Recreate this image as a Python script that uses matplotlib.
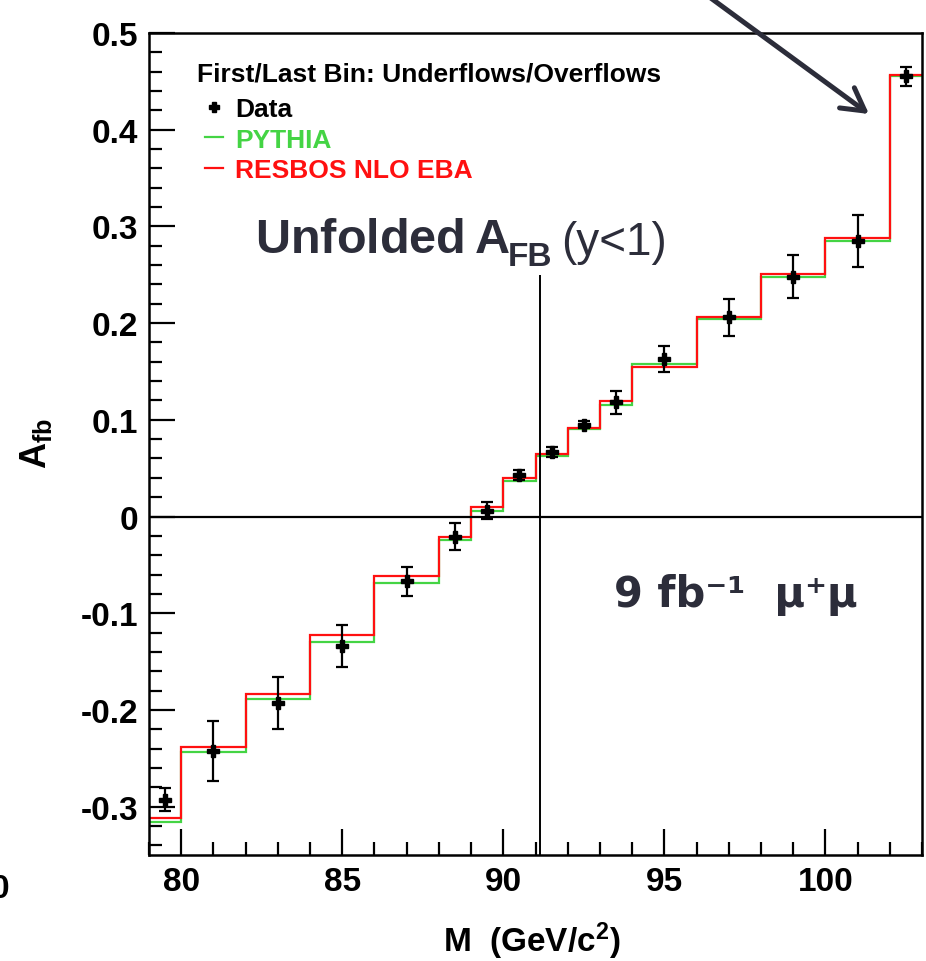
import matplotlib
matplotlib.use("Agg")
import matplotlib.pyplot as plt
from matplotlib.ticker import MultipleLocator, FuncFormatter
from matplotlib.lines import Line2D

plt.rcParams['font.family'] = ['Liberation Sans', 'DejaVu Sans']
plt.rcParams['font.weight'] = 'bold'
plt.rcParams['mathtext.fontset'] = 'custom'
plt.rcParams['mathtext.rm'] = 'Liberation Sans'
plt.rcParams['mathtext.bf'] = 'Liberation Sans:bold'
plt.rcParams['mathtext.default'] = 'bf'

# mass bins (GeV/c^2), first/last bins hold under/overflows
edges = [79, 80, 82, 84, 86, 88, 89, 90, 91, 92, 93, 94, 96, 98, 100, 102, 103]
resbos = [-0.312, -0.238, -0.184, -0.123, -0.062, -0.021, 0.010, 0.040, 0.065,
          0.091, 0.119, 0.155, 0.206, 0.251, 0.288, 0.457]
pythia = [-0.316, -0.243, -0.189, -0.130, -0.069, -0.024, 0.006, 0.037, 0.063,
          0.090, 0.115, 0.158, 0.204, 0.248, 0.285, 0.456]

data_m = [79.5, 81, 83, 85, 87, 88.5, 89.5, 90.5, 91.5, 92.5, 93.5, 95, 97, 99, 101, 102.5]
data_afb = [-0.293, -0.242, -0.193, -0.134, -0.067, -0.021, 0.006, 0.043, 0.067,
            0.095, 0.118, 0.163, 0.206, 0.248, 0.285, 0.455]
data_err = [0.012, 0.031, 0.027, 0.022, 0.015, 0.014, 0.009, 0.005, 0.005,
            0.004, 0.012, 0.0135, 0.019, 0.022, 0.027, 0.010]

m_z = 91.15
text_col = '#2c2d3a'
green = '#44d444'
red = '#ff1010'

fig = plt.figure(figsize=(9.26, 9.62), dpi=100)
ax = fig.add_axes([0.1609, 0.1102, 0.8348, 0.8545])

ax.stairs(pythia, edges, color=green, lw=1.6, baseline=None)
ax.stairs(resbos, edges, color=red, lw=1.6, baseline=None)
ax.errorbar(data_m, data_afb, yerr=data_err, fmt='P', color='black', ms=8,
            elinewidth=1.6, capsize=4, capthick=1.6, zorder=5)

ax.axhline(0, color='black', lw=1.6, zorder=1)
ax.vlines(m_z, -0.35, 0.25, color='black', lw=1.4, zorder=1)

ax.set_xlim(79, 103)
ax.set_ylim(-0.35, 0.5)
ax.xaxis.set_major_locator(MultipleLocator(5))
ax.xaxis.set_minor_locator(MultipleLocator(1))
ax.yaxis.set_major_locator(MultipleLocator(0.1))
ax.yaxis.set_minor_locator(MultipleLocator(0.02))
ax.yaxis.set_major_formatter(FuncFormatter(lambda v, p: f"{round(v, 2):g}"))
ax.tick_params(which='both', direction='in', top=False, right=False, width=1.6,
               labelsize=24, pad=8)
ax.tick_params(which='major', length=19)
ax.tick_params(which='minor', length=9.5)
for sp in ax.spines.values():
    sp.set_linewidth(1.8)

fig.text(443 / 926, 1 - 952 / 962, r"M  (GeV/c$^{2}$)", fontsize=24,
         ha='left', va='baseline')
fig.text(36 / 926, 1 - 443 / 962, r"A$_{fb}$", fontsize=26, rotation=90,
         ha='center', va='center')
fig.text(-9 / 926, 1 - 898 / 962, "0", fontsize=24, ha='left', va='baseline')

# legend
ax.text(0.062, 0.9416, "First/Last Bin: Underflows/Overflows", fontsize=19,
        transform=ax.transAxes, va='baseline')
handles = [Line2D([], [], marker='P', color='black', ls='none', ms=7),
           Line2D([], [], color=green, lw=1.6),
           Line2D([], [], color=red, lw=1.6)]
ax.legend(handles, ['Data', 'PYTHIA', 'RESBOS NLO EBA'], loc='upper left',
          bbox_to_anchor=(0.0724, 0.922), borderaxespad=0, borderpad=0,
          frameon=False, fontsize=19, handlelength=0.7, handletextpad=0.45,
          labelspacing=0.25, labelcolor=['black', green, red])

# title block: "Unfolded A_FB (y<1)"
fig.text(255 / 926, 1 - 253 / 962, r"$\mathbf{Unfolded\,A}$",
         fontsize=35, color=text_col, va='baseline')
fig.text(508 / 926, 1 - 266 / 962, "FB", fontsize=24, color=text_col,
         va='baseline')
fig.text(561 / 926, 1 - 255 / 962, "(y<1)", fontsize=33, color=text_col,
         fontweight='normal', va='baseline')
fig.text(614 / 926, 1 - 607 / 962, "9 fb\u207b\u00b9  \u03bc\u207a\u03bc",
         fontsize=30, color=text_col, family='DejaVu Sans', fontweight='bold',
         va='baseline')

ax.annotate('', xy=(869 / 926, 1 - 115 / 962), xytext=(708 / 926, 1 + 3 / 962),
            xycoords='figure fraction', textcoords='figure fraction',
            arrowprops=dict(arrowstyle='->,head_length=0.8,head_width=0.45',
                            mutation_scale=20, lw=3.6, color=text_col,
                            shrinkA=0, shrinkB=0), annotation_clip=False)

fig.savefig('out.png', dpi=100)
